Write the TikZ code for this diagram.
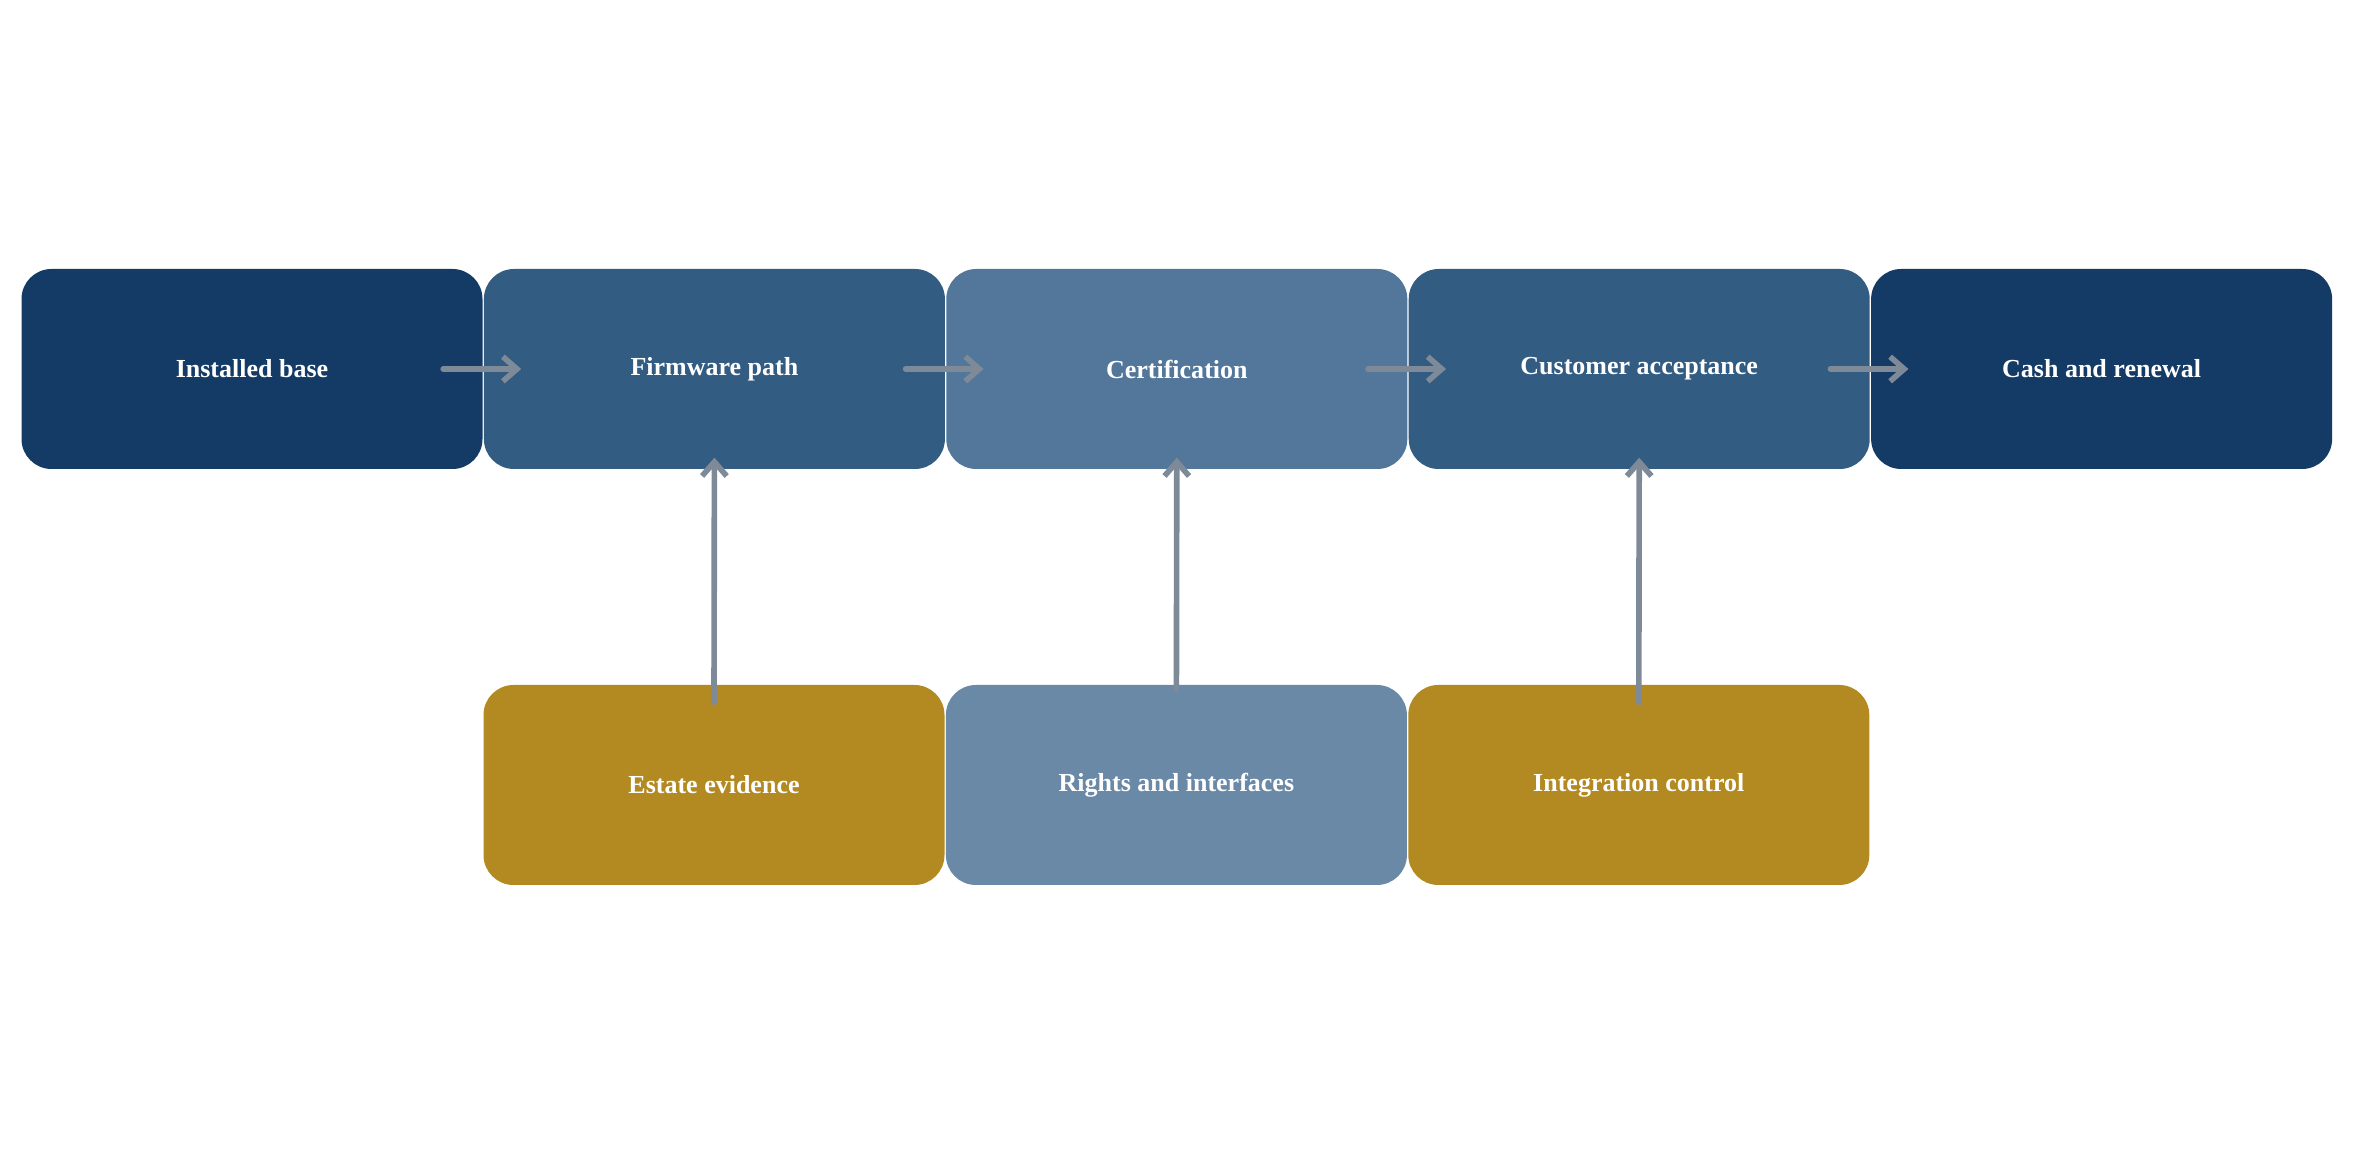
\documentclass[tikz,border=0pt]{standalone}
\usepackage{fontspec}
\setmainfont{Liberation Serif}
\usetikzlibrary{positioning, arrows.meta}

\definecolor{navy}{HTML}{143A66}
\definecolor{steel}{HTML}{325C82}
\definecolor{slate}{HTML}{52779A}
\definecolor{mist}{HTML}{6A89A6}
\definecolor{ochre}{HTML}{B38A22}
\definecolor{link}{HTML}{7F8A99}

\tikzset{
  stage/.style={rectangle, rounded corners=0.3cm, text=white, font=\bfseries\fontsize{7.4}{9}\selectfont,
    text centered, minimum width=4.61cm, minimum height=2cm, inner sep=0pt},
  flow/.style={draw=link, line width=1.6pt, -{Straight Barb[length=4pt, width=7pt]}, line cap=round}
}

\begin{document}
\begin{tikzpicture}[node distance=0cm]
        \useasboundingbox (0,0) rectangle (23.54,11.66);
        % Define nodes
        \node (installed) [stage, fill=navy] at (2.52,7.97) {Installed base};
        \node (firmware) [stage, fill=steel, right=of installed] {Firmware path};
        \node (certification) [stage, fill=slate, right=of firmware] {Certification};
        \node (acceptance) [stage, fill=steel, right=of certification] {Customer acceptance};
        \node (cash) [stage, fill=navy, right=of acceptance] {Cash and renewal};
        \node (estate) [stage, fill=ochre] at (7.14,3.81) {Estate evidence};
        \node (rights) [stage, fill=mist, right=of estate] {Rights and interfaces};
        \node (integration) [stage, fill=ochre, right=of rights] {Integration control};

        % Draw arrows
        \draw[flow] ([xshift=-0.4cm]installed.east) -- ([xshift=0.38cm]firmware.west);
        \draw[flow] ([xshift=-0.4cm]firmware.east) -- ([xshift=0.38cm]certification.west);
        \draw[flow] ([xshift=-0.4cm]certification.east) -- ([xshift=0.38cm]acceptance.west);
        \draw[flow] ([xshift=-0.4cm]acceptance.east) -- ([xshift=0.38cm]cash.west);
        \draw[flow] ([yshift=-0.18cm]estate.north) -- ([yshift=0.12cm]firmware.south);
        \draw[flow] ([yshift=-0.05cm]rights.north) -- ([yshift=0.12cm]certification.south);
        \draw[flow] ([yshift=-0.18cm]integration.north) -- ([yshift=0.12cm]acceptance.south);
\end{tikzpicture}
\end{document}
